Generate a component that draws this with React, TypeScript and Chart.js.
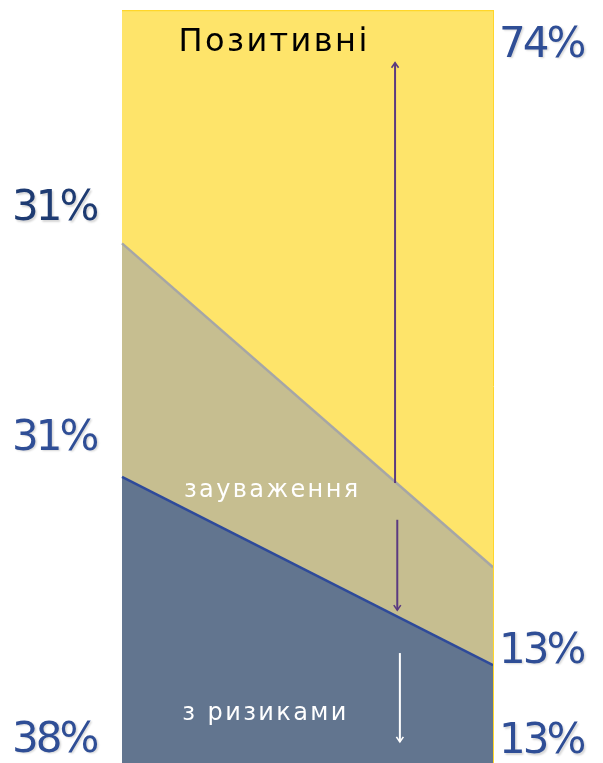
import React, { useEffect, useRef } from "react";
import { Chart, registerables } from "chart.js";

Chart.register(...registerables);

// ---- data ----
const categories = ["Початок", "Кінець"];
const riskValues = [38, 13];
const remarkValues = [31, 13];
const positiveValues = [31, 74];
const seriesNames = ["з ризиками", "зауваження", "Позитивні"];

// ---- styling ----
const COLORS = {
  risk: "#62758F",
  riskLine: "#2E4A9A",
  remark: "#C6BE90",
  remarkLine: "#A6A6A6",
  positive: "#FEE46A",
  positiveLine: "#FFD62A",
  arrow: "#5B3A80",
  pctDark: "#1E3B72",
  pct: "#2F4E96",
};

// annotation anchors (x as fraction of plot width, y in axis units)
const seriesLabelPos = [
  { x: 0.387, y: 5.7, color: "#FFFFFF", size: 24, spacing: 2.4 },
  { x: 0.405, y: 35.3, color: "#FFFFFF", size: 24, spacing: 2.4 },
  { x: 0.41, y: 94.6, color: "#000000", size: 32, spacing: 2.4 },
];
const arrows = [
  { x: 0.736, y1: 37.2, y2: 93.0, color: COLORS.arrow, head: "up" },
  { x: 0.742, y1: 32.3, y2: 20.3, color: COLORS.arrow, head: "down" },
  { x: 0.749, y1: 14.6, y2: 2.8, color: "#FFFFFF", head: "down" },
];
const leftPctPos = [1.5, 41.6, 72.1];
const rightPctPos = [1.3, 13.3, 93.8];

const annotationPlugin = {
  id: "annot",
  afterDatasetsDraw(chart: any) {
    const { ctx, chartArea, scales } = chart;
    const ys = scales.y;
    const w = chartArea.right - chartArea.left;
    ctx.save();
    // right edge line
    ctx.strokeStyle = COLORS.positiveLine;
    ctx.lineWidth = 1;
    ctx.beginPath();
    ctx.moveTo(chartArea.right + 0.5, chartArea.top);
    ctx.lineTo(chartArea.right + 0.5, chartArea.bottom);
    ctx.stroke();

    // arrows
    arrows.forEach((a) => {
      const x = chartArea.left + a.x * w;
      const p1 = ys.getPixelForValue(a.y1);
      const p2 = ys.getPixelForValue(a.y2);
      ctx.strokeStyle = a.color;
      ctx.lineWidth = 2;
      ctx.beginPath();
      ctx.moveTo(x, p1);
      ctx.lineTo(x, p2);
      ctx.stroke();
      const dir = p2 < p1 ? -1 : 1;
      ctx.lineWidth = 1.6;
      ctx.beginPath();
      ctx.moveTo(x - 3.5, p2 - dir * 5);
      ctx.lineTo(x, p2);
      ctx.lineTo(x + 3.5, p2 - dir * 5);
      ctx.stroke();
    });

    // series labels
    ctx.textAlign = "center";
    ctx.textBaseline = "alphabetic";
    seriesLabelPos.forEach((p, i) => {
      ctx.font = `${p.size}px "DejaVu Sans"`;
      (ctx as any).letterSpacing = `${p.spacing}px`;
      ctx.fillStyle = p.color;
      ctx.fillText(seriesNames[i], chartArea.left + p.x * w, ys.getPixelForValue(p.y));
    });

    // percentage labels
    (ctx as any).letterSpacing = "-3px";
    ctx.font = `42px "DejaVu Sans"`;
    ctx.shadowColor = "rgba(0,0,0,0.16)";
    ctx.shadowOffsetX = 1.5;
    ctx.shadowOffsetY = 1.5;
    ctx.shadowBlur = 2;
    const data = [riskValues, remarkValues, positiveValues];
    ctx.textAlign = "left";
    data.forEach((vals, i) => {
      ctx.fillStyle = i === 2 ? COLORS.pctDark : COLORS.pct;
      ctx.fillText(`${vals[0]}%`, chartArea.left - 110, ys.getPixelForValue(leftPctPos[i]));
      ctx.fillStyle = COLORS.pct;
      ctx.fillText(`${vals[1]}%`, chartArea.right + 6, ys.getPixelForValue(rightPctPos[i]));
    });
    ctx.restore();
  },
};

export default function App() {
  const ref = useRef<HTMLCanvasElement>(null);
  useEffect(() => {
    if (!ref.current) return;
    const chart = new Chart(ref.current, {
      type: "line",
      data: {
        labels: categories,
        datasets: [
          {
            label: seriesNames[0],
            data: riskValues,
            backgroundColor: COLORS.risk,
            borderColor: COLORS.riskLine,
            borderWidth: 2.5,
            fill: "origin",
            pointRadius: 0,
            tension: 0,
          },
          {
            label: seriesNames[1],
            data: remarkValues,
            backgroundColor: COLORS.remark,
            borderColor: COLORS.remarkLine,
            borderWidth: 2.5,
            fill: "-1",
            pointRadius: 0,
            tension: 0,
          },
          {
            label: seriesNames[2],
            data: positiveValues,
            backgroundColor: COLORS.positive,
            borderColor: COLORS.positiveLine,
            borderWidth: 2.5,
            fill: "-1",
            pointRadius: 0,
            tension: 0,
          },
        ],
      },
      options: {
        animation: false,
        responsive: true,
        maintainAspectRatio: false,
        layout: { padding: { left: 122, right: 110, top: 10, bottom: 0 } },
        plugins: { legend: { display: false }, tooltip: { enabled: false } },
        scales: {
          x: { display: false, offset: false },
          y: { display: false, stacked: true, min: 0, max: 100 },
        },
      },
      plugins: [annotationPlugin],
    });
    return () => chart.destroy();
  }, []);
  return (
    <div style={{ position: "fixed", left: 0, top: 0, width: 603, height: 763, background: "#fff" }}>
      <canvas ref={ref} />
    </div>
  );
}
